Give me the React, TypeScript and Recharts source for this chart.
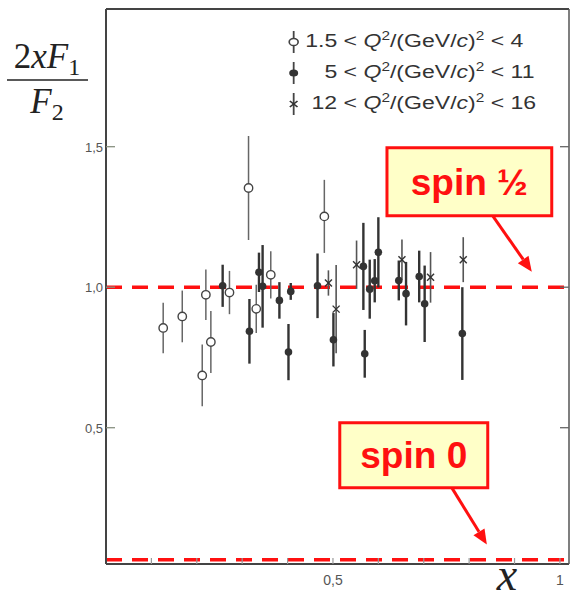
import React from "react";
import {
  ErrorBar,
  ReferenceArea,
  ReferenceLine,
  Scatter,
  ScatterChart,
  XAxis,
  YAxis
} from "recharts";

// 1.5 < Q^2 < 4 (open circles)
const LOW_X = [0.126, 0.168, 0.212, 0.22, 0.231, 0.272, 0.314, 0.331, 0.363, 0.481];
const LOW_Y = [0.855, 0.896, 0.686, 0.973, 0.805, 0.981, 1.353, 0.923, 1.044, 1.252];
const LOW_ERR = [0.09, 0.092, 0.11, 0.09, 0.11, 0.077, 0.185, 0.086, 0.084, 0.13];

// 5 < Q^2 < 11 (filled circles)
const MID_X = [0.257, 0.316, 0.337, 0.345, 0.382, 0.402, 0.407, 0.466, 0.501, 0.567, 0.57, 0.581, 0.592, 0.6, 0.645, 0.661, 0.69, 0.702, 0.785];
const MID_Y = [1.005, 0.843, 1.053, 1.003, 0.953, 0.769, 0.985, 1.005, 0.813, 1.074, 0.763, 0.993, 1.023, 1.124, 1.024, 0.977, 1.038, 0.941, 0.835];
const MID_ERR = [0.075, 0.115, 0.07, 0.147, 0.065, 0.1, 0.03, 0.115, 0.095, 0.155, 0.085, 0.105, 0.077, 0.125, 0.071, 0.113, 0.092, 0.136, 0.165];

// 12 < Q^2 < 16 (crosses)
const HIGH_X = [0.49, 0.507, 0.552, 0.652, 0.715, 0.787];
const HIGH_Y = [1.015, 0.922, 1.08, 1.098, 1.035, 1.098];
const HIGH_ERR = [0.045, 0.157, 0.086, 0.072, 0.09, 0.08];

const X_TICKS = [0.1, 0.2, 0.3, 0.4, 0.5, 0.6, 0.7, 0.8, 0.9, 1.0];
const X_TICK_LABELS: Record<string, string> = { "0.5": "0,5", "1": "1" };
const Y_TICKS = [0.5, 1.0, 1.5];
const Y_TICK_LABELS = ["0,5", "1,0", "1,5"];

const LEGEND_FROM = ["1.5", "5", "12"];
const LEGEND_TO = ["4", "11", "16"];

const SPIN_HALF = 1.0;
const SPIN_ZERO = 0.03;

const RED = "#ff1010";
const SANS = "'Liberation Sans', Arial, sans-serif";
const SERIF = "'Liberation Serif', 'Times New Roman', serif";

const toPoints = (xs: number[], ys: number[], errs: number[]) =>
  xs.map((x, i) => ({ x, y: ys[i], err: errs[i] }));

const lowData = toPoints(LOW_X, LOW_Y, LOW_ERR);
const midData = toPoints(MID_X, MID_Y, MID_ERR);
const highData = toPoints(HIGH_X, HIGH_Y, HIGH_ERR);

const OpenDot = (p: any) => (
  <circle cx={p.cx} cy={p.cy} r={4.2} fill="#fff" stroke="#444" strokeWidth={1.4} />
);
const FilledDot = (p: any) => <circle cx={p.cx} cy={p.cy} r={3.8} fill="#333" />;
const CrossDot = (p: any) => (
  <g stroke="#333" strokeWidth={1.4}>
    <line x1={p.cx - 3.5} y1={p.cy - 3.5} x2={p.cx + 3.5} y2={p.cy + 3.5} />
    <line x1={p.cx - 3.5} y1={p.cy + 3.5} x2={p.cx + 3.5} y2={p.cy - 3.5} />
  </g>
);

const LeftTick = (p: any) => {
  const i = Y_TICKS.indexOf(p.payload.value);
  return (
    <g>
      <line x1={p.x} x2={p.x + 9} y1={p.y} y2={p.y} stroke="#889080" strokeWidth={1.3} />
      <text x={p.x - 3} y={p.y + 5} textAnchor="end" fontSize={13} fontFamily={SANS} fill="#555">
        {Y_TICK_LABELS[i]}
      </text>
    </g>
  );
};

const RightTick = (p: any) => (
  <line x1={p.x} x2={p.x - 9} y1={p.y} y2={p.y} stroke="#666" strokeWidth={1.3} />
);

const BottomTick = (p: any) => {
  const label = X_TICK_LABELS[String(p.payload.value)];
  return (
    <g>
      <line x1={p.x} x2={p.x} y1={p.y} y2={p.y - 6} stroke="#999" strokeWidth={1.2} />
      {label && (
        <text x={p.x} y={p.y + 21} textAnchor="middle" fontSize={14} fontFamily={SANS} fill="#555">
          {label}
        </text>
      )}
    </g>
  );
};

const Arrow = (p: any) => {
  const { x1, y1, x2, y2 } = p;
  const a = Math.atan2(y2 - y1, x2 - x1);
  const len = 15;
  const half = 6.5;
  const bx = x2 - len * Math.cos(a);
  const by = y2 - len * Math.sin(a);
  const px = -Math.sin(a) * half;
  const py = Math.cos(a) * half;
  return (
    <g>
      <line x1={x1} y1={y1} x2={bx} y2={by} stroke={RED} strokeWidth={3} />
      <polygon points={`${x2},${y2} ${bx + px},${by + py} ${bx - px},${by - py}`} fill={RED} />
    </g>
  );
};

const boxLabel = (text: string) => (p: any) => {
  const vb = p.viewBox;
  return (
    <text
      x={vb.x + vb.width / 2}
      y={vb.y + vb.height / 2 + 13}
      textAnchor="middle"
      fontSize={37}
      fontWeight={700}
      fontFamily={SANS}
      fill={RED}
    >
      {text}
    </text>
  );
};

const YLabel = () => (
  <g fontFamily={SERIF} fill="#222">
    <text x={47} y={68} textAnchor="middle" fontSize={35}>
      <tspan>2</tspan>
      <tspan fontStyle="italic">xF</tspan>
      <tspan fontSize={24} dy={7}>1</tspan>
    </text>
    <line x1={7} x2={88} y1={80} y2={80} stroke="#222" strokeWidth={1.6} />
    <text x={47} y={113} textAnchor="middle" fontSize={35}>
      <tspan fontStyle="italic">F</tspan>
      <tspan fontSize={24} dy={7}>2</tspan>
    </text>
  </g>
);

const XLabel = () => (
  <text x={507} y={590} textAnchor="middle" fontSize={46} fontStyle="italic" fontFamily={SERIF} fill="#222">
    x
  </text>
);

const LegendMark = ({ kind }: { kind: number }) => (
  <svg width={12} height={26} style={{ verticalAlign: "middle" }}>
    <line x1={6} x2={6} y1={2} y2={24} stroke="#444" strokeWidth={1.4} />
    {kind === 0 && <circle cx={6} cy={13} r={3.5} fill="#fff" stroke="#444" strokeWidth={1.3} />}
    {kind === 1 && <circle cx={6} cy={13} r={3.5} fill="#333" />}
    {kind === 2 && (
      <g stroke="#333" strokeWidth={1.3}>
        <line x1={3} y1={10} x2={9} y2={16} />
        <line x1={3} y1={16} x2={9} y2={10} />
      </g>
    )}
  </svg>
);

const sup = { fontSize: 12, position: "relative" as const, top: -7 };

const LegendBox = () => (
  <div
    style={{
      position: "absolute",
      left: 286,
      top: 26,
      fontFamily: SANS,
      fontSize: 18,
      color: "#333",
      lineHeight: "31px",
      transform: "scaleX(1.28)",
      transformOrigin: "0 0"
    }}
  >
    {LEGEND_FROM.map((from, i) => (
      <div key={from} style={{ whiteSpace: "nowrap", height: 31 }}>
        <LegendMark kind={i} />
        <span style={{ display: "inline-block", width: 28, textAlign: "right" }}>{from}</span>
        <span>
          {" < "}
          <i>Q</i>
          <span style={sup}>2</span>/(GeV/<i>c</i>)<span style={sup}>2</span>
          {" < " + LEGEND_TO[i]}
        </span>
      </div>
    ))}
  </div>
);

export default function App() {
  return (
    <div style={{ position: "absolute", left: 0, top: 0, width: 574, height: 601, background: "#fff" }}>
      <ScatterChart width={574} height={601} margin={{ top: 0, right: 0, bottom: 0, left: 0 }}>
        <XAxis
          xAxisId="top"
          orientation="top"
          type="number"
          dataKey="x"
          domain={[0, 1.02]}
          height={9}
          tick={false}
          tickLine={false}
          axisLine={{ stroke: "#444", strokeWidth: 2 }}
        />
        <XAxis
          type="number"
          dataKey="x"
          domain={[0, 1.02]}
          ticks={X_TICKS}
          height={37}
          tickSize={0}
          tickMargin={0}
          tickLine={false}
          tick={<BottomTick />}
          axisLine={{ stroke: "#444", strokeWidth: 2 }}
          label={{ content: () => <XLabel /> }}
        />
        <YAxis
          type="number"
          dataKey="y"
          domain={[0.015, 1.99]}
          allowDataOverflow
          ticks={Y_TICKS}
          width={106}
          tickSize={0}
          tickMargin={0}
          tickLine={false}
          tick={<LeftTick />}
          axisLine={{ stroke: "#444", strokeWidth: 2 }}
          label={{ content: () => <YLabel /> }}
        />
        <YAxis
          yAxisId="right"
          orientation="right"
          type="number"
          domain={[0.015, 1.99]}
          allowDataOverflow
          ticks={Y_TICKS}
          width={5}
          tickSize={0}
          tickMargin={0}
          tickLine={false}
          tick={<RightTick />}
          axisLine={{ stroke: "#555", strokeWidth: 1.5 }}
        />

        <ReferenceLine y={SPIN_HALF} stroke={RED} strokeWidth={3.5} strokeDasharray="16 10" />
        <ReferenceLine y={SPIN_ZERO} stroke={RED} strokeWidth={3.5} strokeDasharray="16 10" />

        <Scatter data={lowData} shape={OpenDot} isAnimationActive={false}>
          <ErrorBar dataKey="err" direction="y" width={0} stroke="#666" strokeWidth={1.5} />
        </Scatter>
        <Scatter data={midData} shape={FilledDot} isAnimationActive={false}>
          <ErrorBar dataKey="err" direction="y" width={0} stroke="#333" strokeWidth={2.4} />
        </Scatter>
        <Scatter data={highData} shape={CrossDot} isAnimationActive={false}>
          <ErrorBar dataKey="err" direction="y" width={0} stroke="#555" strokeWidth={1.6} />
        </Scatter>

        <ReferenceArea
          x1={0.619}
          x2={0.982}
          y1={1.254}
          y2={1.496}
          fill="#ffffc8"
          fillOpacity={1}
          stroke={RED}
          strokeWidth={3}
          label={{ content: boxLabel("spin ½") }}
        />
        <ReferenceArea
          x1={0.515}
          x2={0.841}
          y1={0.286}
          y2={0.518}
          fill="#ffffc8"
          fillOpacity={1}
          stroke={RED}
          strokeWidth={3}
          label={{ content: boxLabel("spin 0") }}
        />
        <ReferenceLine
          segment={[{ x: 0.852, y: 1.254 }, { x: 0.938, y: 1.055 }]}
          shape={Arrow}
        />
        <ReferenceLine
          segment={[{ x: 0.762, y: 0.286 }, { x: 0.839, y: 0.084 }]}
          shape={Arrow}
        />
      </ScatterChart>
      <LegendBox />
    </div>
  );
}
